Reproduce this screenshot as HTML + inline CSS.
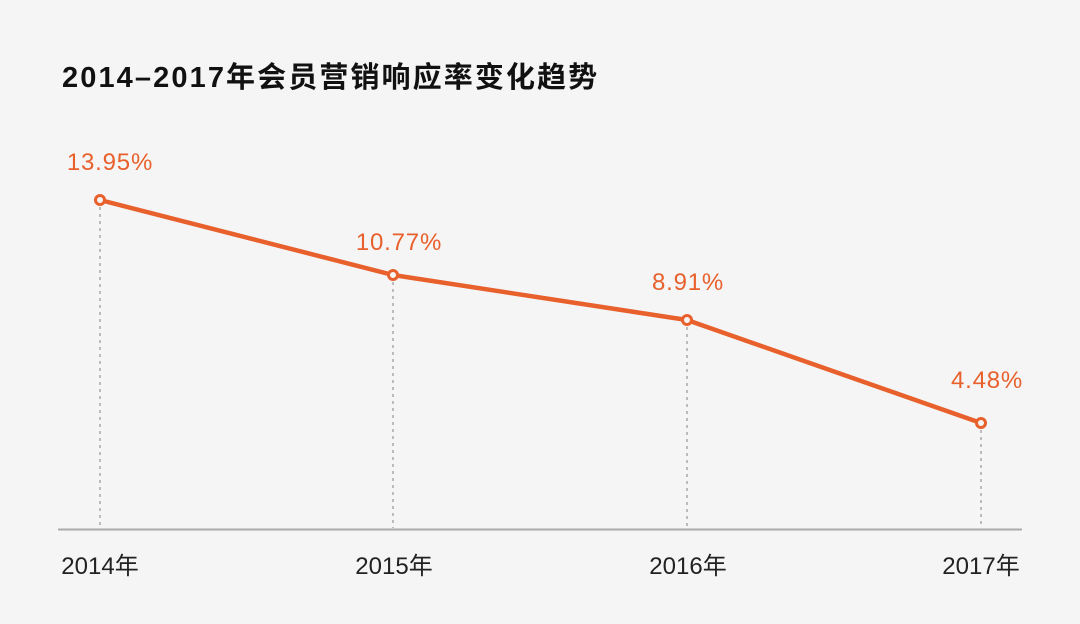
<!DOCTYPE html>
<html><head><meta charset="utf-8"><style>
html,body{margin:0;padding:0;background:#f5f5f5;}
svg{display:block;}
</style></head><body>
<svg width="1080" height="624" xmlns="http://www.w3.org/2000/svg">
<rect width="1080" height="624" fill="#f5f5f5"/>
<text x="62" y="87" font-family="Liberation Sans, Noto Sans CJK SC, sans-serif" font-size="29" font-weight="bold" fill="#111" letter-spacing="2.1">2014–2017年会员营销响应率变化趋势</text>
<g stroke="#aaa" stroke-width="1.5" stroke-dasharray="3,4">
<line x1="100" y1="207" x2="100" y2="528"/>
<line x1="393" y1="282" x2="393" y2="528"/>
<line x1="687" y1="327" x2="687" y2="528"/>
<line x1="981" y1="430" x2="981" y2="528"/>
</g>
<line x1="58" y1="529.5" x2="1022" y2="529.5" stroke="#aaa" stroke-width="2"/>
<polyline points="100,200 393,275 687,320 981,423" fill="none" stroke="#e8602c" stroke-width="4.5" stroke-linejoin="round"/>
<g fill="#f5f5f5" stroke="#e8602c" stroke-width="3">
<circle cx="100" cy="200" r="4.5"/><circle cx="393" cy="275" r="4.5"/><circle cx="687" cy="320" r="4.5"/><circle cx="981" cy="423" r="4.5"/>
</g>
<g font-family="Liberation Sans, sans-serif" font-size="24" fill="#e8602c" text-anchor="middle" letter-spacing="0.8">
<text x="110" y="170">13.95%</text>
<text x="399" y="250">10.77%</text>
<text x="688" y="290">8.91%</text>
<text x="987" y="388">4.48%</text>
</g>
<g font-family="Liberation Sans, Noto Sans CJK SC, sans-serif" font-size="24" fill="#222" text-anchor="middle">
<text x="100" y="574">2014年</text>
<text x="394" y="574">2015年</text>
<text x="688" y="574">2016年</text>
<text x="981" y="574">2017年</text>
</g>
</svg>
</body></html>
